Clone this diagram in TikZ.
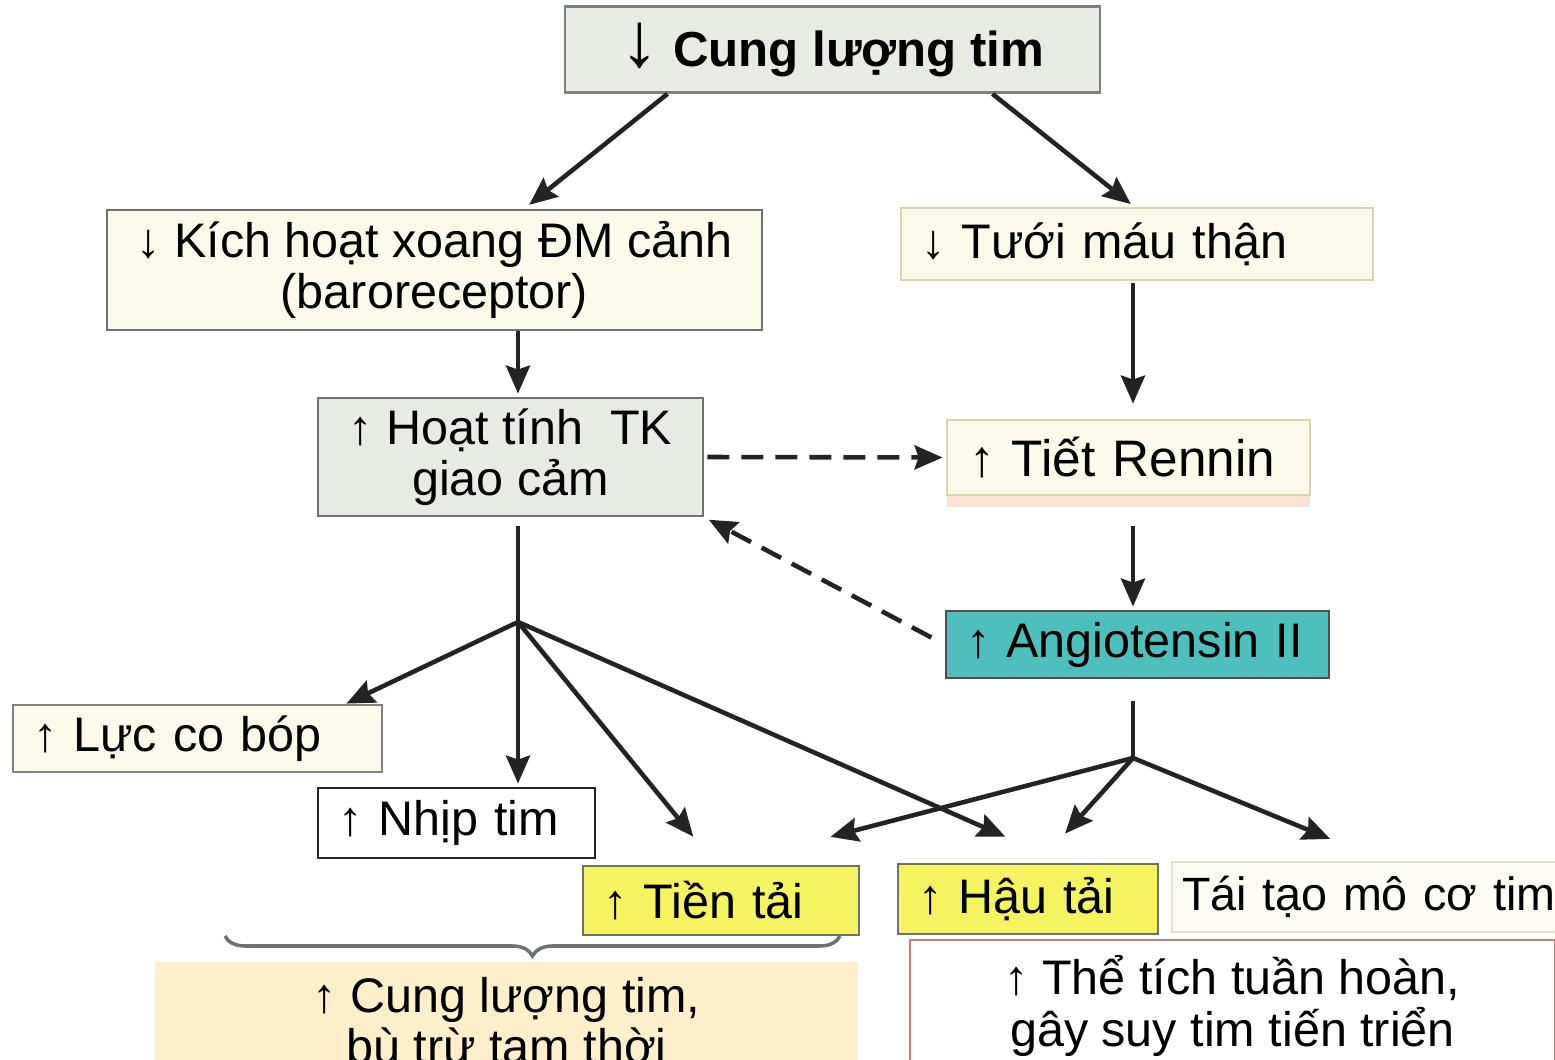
\documentclass[tikz,border=0pt]{standalone}
\usepackage{fontspec}
\setmainfont{Liberation Sans}
\usetikzlibrary{arrows.meta, decorations.pathreplacing, shadows}

\definecolor{greyfill}{HTML}{E7EBE4}
\definecolor{creamfill}{HTML}{FBFAEA}
\definecolor{paleline}{HTML}{D9D3B2}
\definecolor{darkline}{HTML}{6E726E}
\definecolor{tealfill}{HTML}{4DBFBC}
\definecolor{yellowfill}{HTML}{F6F360}
\definecolor{orangefill}{HTML}{FCEFCA}
\definecolor{redline}{HTML}{C47B7B}
\definecolor{inkline}{HTML}{232323}

\begin{document}
\begin{tikzpicture}[
    every node/.style={font=\fontsize{13.8}{14.6}\selectfont},
    block/.style={rectangle, draw=darkline, line width=0.8pt, inner xsep=0.2cm, inner ysep=0pt, align=left},
    arrow/.style={-{Stealth[length=0.28cm, width=0.24cm, inset=0.04cm]}, line width=1.3pt, draw=inkline},
    dasharrow/.style={arrow, dash pattern=on 0.22cm off 0.12cm},
    link/.style={line width=1.0pt, draw=inkline}
]
    \useasboundingbox (0,0) rectangle (15.55,-10.6);

    \node[block, fill=greyfill, draw=gray, minimum width=5.35cm, minimum height=0.86cm, align=center,
          font=\fontsize{14}{16}\selectfont\bfseries] (clt) at (8.325,-0.495)
          {{\fontsize{22}{22}\selectfont ↓} Cung lượng tim};
    \node[block, fill=creamfill, minimum width=6.55cm, minimum height=1.2cm, align=center] (kich) at (4.345,-2.7)
          {↓ Kích hoạt xoang ĐM cảnh\\(baroreceptor)};
    \node[block, fill=creamfill, draw=paleline, text width=4.32cm, minimum height=0.72cm] (tuoi) at (11.37,-2.44)
          {↓ Tưới máu thận};
    \node[block, fill=greyfill, minimum width=3.85cm, minimum height=1.18cm, align=center] (hoat) at (5.105,-4.57)
          {↑ Hoạt tính\ \ TK\\giao cảm};
    \node[block, fill=creamfill, draw=paleline, inner xsep=0.22cm, text width=3.19cm, minimum height=0.75cm,
          font=\fontsize{14.6}{17}\selectfont,
          drop shadow={fill=orange!25!pink!60, opacity=0.6, shadow xshift=0cm, shadow yshift=-0.12cm}] (tiet) at (11.285,-4.575)
          {↑ Tiết Rennin};
    \node[block, fill=tealfill, draw=inkline!80, text width=3.43cm, minimum height=0.67cm] (angio) at (11.375,-6.445)
          {↑ Angiotensin II};
    \node[block, fill=creamfill, draw=gray, text width=3.29cm, minimum height=0.67cm] (luc) at (1.975,-7.385)
          {↑ Lực co bóp};
    \node[block, fill=white, draw=inkline, text width=2.37cm, minimum height=0.7cm] (nhip) at (4.565,-8.23)
          {↑ Nhịp tim};
    \node[block, fill=yellowfill, draw=darkline, text width=2.36cm, minimum height=0.69cm] (tien) at (7.21,-9.005)
          {↑ Tiền tải};
    \node[block, fill=yellowfill, draw=darkline, text width=2.2cm, minimum height=0.7cm] (hau) at (10.28,-8.99)
          {↑ Hậu tải};
    \node[block, fill=creamfill!50, draw=paleline!70, inner xsep=0.1cm, text width=3.68cm, minimum height=0.7cm,
          font=\fontsize{13.3}{14.6}\selectfont] (taitao) at (13.66,-8.97)
          {\mbox{Tái tạo mô cơ tim}};
    \node[block, fill=orangefill, draw=none, minimum width=7.03cm, minimum height=1.24cm, align=center] (bu) at (5.065,-10.24)
          {↑ Cung lượng tim,\\bù trừ tạm thời};
    \node[block, fill=white, draw=redline, minimum width=6.45cm, minimum height=1.32cm, align=center] (the) at (12.325,-10.06)
          {↑ Thể tích tuần hoàn,\\gây suy tim tiến triển};

    \coordinate (j1) at (5.18,-6.22);
    \coordinate (j2) at (11.33,-7.58);

    \draw[arrow, shorten >=0.06cm] ([xshift=-1.65cm]clt.south) -- ([xshift=0.9cm]kich.north);
    \draw[arrow, shorten >=0.04cm] ([xshift=1.6cm]clt.south) -- ([xshift=-0.03cm]tuoi.north);
    \draw[arrow, shorten >=0.03cm] (kich.south -| j1) -- (hoat.north -| j1);
    \draw[arrow, shorten <=0.02cm, shorten >=0.15cm] (tuoi.south -| j2) -- (tiet.north -| j2);
    \draw[arrow, shorten <=0.3cm, shorten >=0.03cm] (tiet.south -| j2) -- (angio.north -| j2);
    \draw[dasharrow, shorten <=0.03cm, shorten >=0.03cm] (hoat.east) -- (tiet.west);
    \draw[dasharrow, shorten <=0.15cm, shorten >=0.05cm] (angio.west) -- (hoat.south east);

    \draw[link, shorten <=0.09cm] (hoat.south -| j1) -- (j1);
    \draw[arrow] (j1) -- ([xshift=-0.37cm]luc.north east);
    \draw[arrow, shorten >=0.03cm] (j1) -- (j1 |- nhip.north);
    \draw[arrow, shorten >=0.36cm] (j1) -- ([xshift=-0.05cm]tien.north);
    \draw[arrow, shorten >=0.64cm] (j1) -- ([xshift=0.36cm]hau.north);

    \draw[link, shorten <=0.22cm] (angio.south -| j2) -- (j2);
    \draw[arrow, shorten >=1.1cm] (j2) -- ([xshift=0.03cm]tien.north);
    \draw[arrow, shorten >=0.39cm] (j2) -- ([xshift=0.11cm]hau.north);
    \draw[arrow, shorten >=0.57cm] (j2) -- ([xshift=0.17cm]taitao.north);

    \draw[darkline, line width=1pt, decorate, decoration={brace, mirror, amplitude=0.2cm}] (2.25,-9.36) -- (8.4,-9.36);
\end{tikzpicture}
\end{document}
